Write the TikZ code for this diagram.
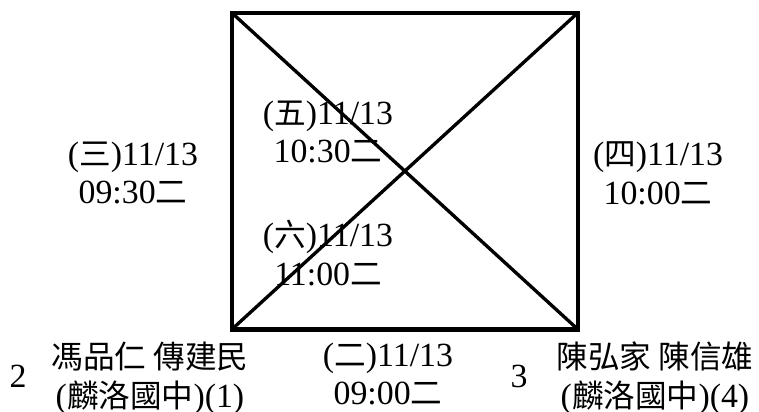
\documentclass[tikz,border=0pt]{standalone}
\usepackage{fontspec}
\setmainfont{Liberation Serif}[Scale=1.07]
\newfontfamily\cjk{Noto Sans CJK TC}
\newcommand{\zh}[1]{{\cjk #1}}

\begin{document}
\begin{tikzpicture}[x=1cm, y=1cm,
    game/.style={font=\fontsize{18}{22.1}\selectfont, align=center, inner sep=0pt},
    seed/.style={font=\fontsize{18}{22.1}\selectfont, inner sep=0pt}]
      \useasboundingbox (0,0) rectangle (15.18,8.24);
      % corners of the square
      \coordinate (sw) at (4.634,1.65);
      \coordinate (se) at (11.56,1.65);
      \coordinate (nw) at (4.634,7.986);
      \coordinate (ne) at (11.56,7.986);
      \draw[line width=2.3pt] (sw) rectangle (ne);
      \draw[line width=1.9pt] (nw) -- (se);
      \draw[line width=1.9pt] (sw) -- (ne);
      % games
      \node[game] (g3) at (2.66,4.78) {(\zh{三})11/13\\09:30\zh{二}};
      \node[game] (g4) at (13.16,4.78) {(\zh{四})11/13\\10:00\zh{二}};
      \node[game] (g5) at (6.56,5.60) {(\zh{五})11/13\\10:30\zh{二}};
      \node[game] (g6) at (6.56,3.18) {(\zh{六})11/13\\11:00\zh{二}};
      \node[game] (g2) at (7.76,0.76) {(\zh{二})11/13\\09:00\zh{二}};
      % teams
      \node[seed] (s2) at (0.36,0.72) {2};
      \node[seed] (s3) at (10.38,0.72) {3};
      \node[game] (t2) at (3.00,0.68) {\zh{馮品仁 傳建民}\\(\zh{麟洛國中})(1)};
      \node[game] (t3) at (13.10,0.68) {\zh{陳弘家 陳信雄}\\(\zh{麟洛國中})(4)};
\end{tikzpicture}
\end{document}
